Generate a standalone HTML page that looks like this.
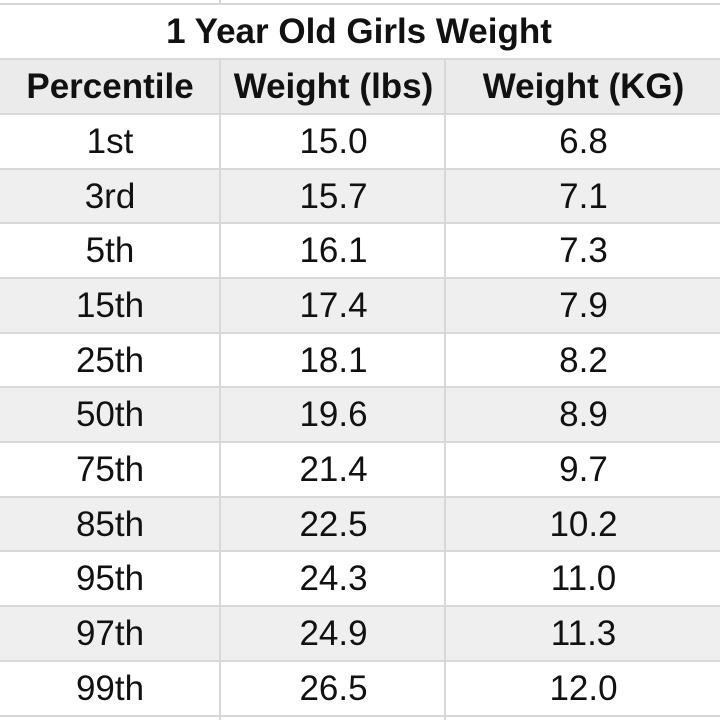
<!DOCTYPE html>
<html><head><style>
html,body{margin:0;padding:0;background:#fff;width:720px;height:720px;overflow:hidden}
body{position:relative;font-family:"Liberation Sans",Arial,sans-serif;color:#111}
.h{position:absolute;left:0;width:720px;height:2px;background:#d8d8d8}
.v{position:absolute;width:2px;background:#d8d8d8}
.row{position:absolute;left:0;width:720px;height:55px}
.c{position:absolute;top:0;height:55px;line-height:55px;text-align:center;font-size:35px}
.c1{left:0;width:220px}.c2{left:222px;width:223px}.c3{left:447px;width:273px}
.b{font-weight:bold;font-size:35px}
</style></head><body>
<div class="row" style="top:4px;height:55px"><div class="c b" style="left:0;width:718px">1 Year Old Girls Weight</div></div>
<div class="row" style="top:59px;background:#ebebeb"><div class="c c1 b">Percentile</div><div class="c c2 b">Weight (lbs)</div><div class="c c3 b">Weight (KG)</div></div>
<div class="row" style="top:114px"><div class="c c1">1st</div><div class="c c2">15.0</div><div class="c c3">6.8</div></div>
<div class="row" style="top:169px;background:#efefef"><div class="c c1">3rd</div><div class="c c2">15.7</div><div class="c c3">7.1</div></div>
<div class="row" style="top:223px"><div class="c c1">5th</div><div class="c c2">16.1</div><div class="c c3">7.3</div></div>
<div class="row" style="top:278px;background:#efefef"><div class="c c1">15th</div><div class="c c2">17.4</div><div class="c c3">7.9</div></div>
<div class="row" style="top:333px"><div class="c c1">25th</div><div class="c c2">18.1</div><div class="c c3">8.2</div></div>
<div class="row" style="top:387px;background:#efefef"><div class="c c1">50th</div><div class="c c2">19.6</div><div class="c c3">8.9</div></div>
<div class="row" style="top:442px"><div class="c c1">75th</div><div class="c c2">21.4</div><div class="c c3">9.7</div></div>
<div class="row" style="top:497px;background:#efefef"><div class="c c1">85th</div><div class="c c2">22.5</div><div class="c c3">10.2</div></div>
<div class="row" style="top:551px"><div class="c c1">95th</div><div class="c c2">24.3</div><div class="c c3">11.0</div></div>
<div class="row" style="top:606px;background:#efefef"><div class="c c1">97th</div><div class="c c2">24.9</div><div class="c c3">11.3</div></div>
<div class="row" style="top:661px"><div class="c c1">99th</div><div class="c c2">26.5</div><div class="c c3">12.0</div></div>
<div class="h" style="top:3px"></div>
<div class="h" style="top:58px"></div>
<div class="h" style="top:113px"></div>
<div class="h" style="top:168px"></div>
<div class="h" style="top:222px"></div>
<div class="h" style="top:277px"></div>
<div class="h" style="top:332px"></div>
<div class="h" style="top:386px"></div>
<div class="h" style="top:441px"></div>
<div class="h" style="top:496px"></div>
<div class="h" style="top:550px"></div>
<div class="h" style="top:605px"></div>
<div class="h" style="top:660px"></div>
<div class="h" style="top:715px"></div>
<div class="v" style="left:219px;top:0;height:4px"></div>
<div class="v" style="left:219px;top:59px;height:661px"></div>
<div class="v" style="left:444px;top:59px;height:661px"></div>
</body></html>
